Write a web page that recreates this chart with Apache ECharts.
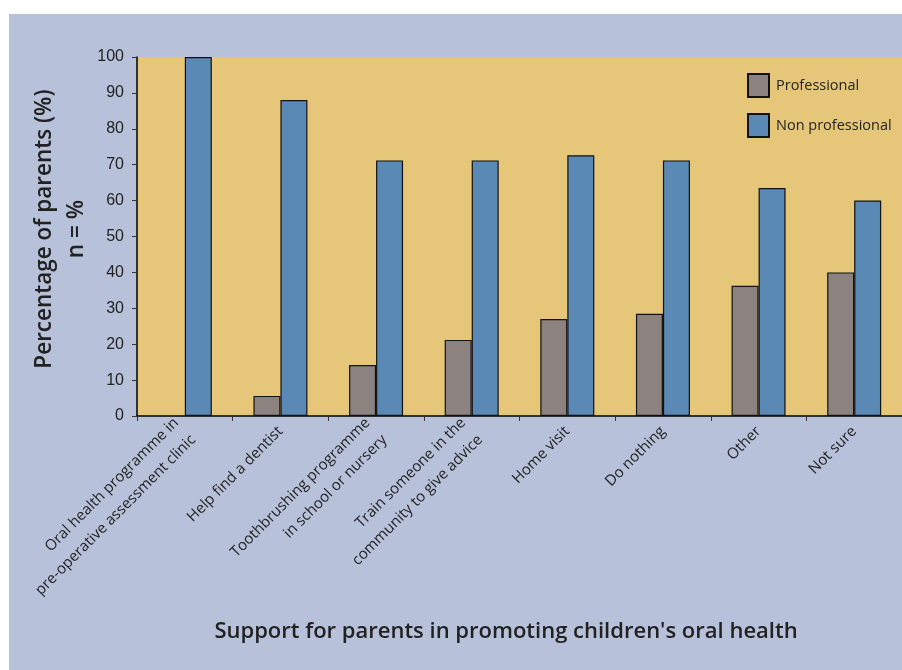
<!DOCTYPE html>
<html>
<head>
<meta charset="utf-8">
<script src="https://cdn.jsdelivr.net/npm/echarts@6/dist/echarts.min.js"></script>
<style>
  html, body { margin: 0; padding: 0; background: #ffffff; }
  #frame { position: absolute; left: 9px; top: 14px; width: 893px; height: 656px; background: #B8C1DA; }
  #chart { position: absolute; left: 0; top: 0; width: 902px; height: 670px; }
</style>
</head>
<body>
<div id="frame"></div>
<div id="chart"></div>
<script>
const categories = [
  "Oral health programme in\npre-operative assessment clinic",
  "Help find a dentist",
  "Toothbrushing programme\nin school or nursery",
  "Train someone in the\ncommunity to give advice",
  "Home visit",
  "Do nothing",
  "Other",
  "Not sure"
];
const professional = [null, 5.6, 14.2, 21.2, 27.0, 28.5, 36.3, 40.0];
const nonProfessional = [100, 88.0, 71.2, 71.2, 72.6, 71.2, 63.5, 60.0];
const yTicks = { min: 0, max: 100, interval: 10 };
const seriesNames = ["Professional", "Non professional"];
const xTitle = "Support for parents in promoting children's oral health";
const yTitle = "Percentage of parents (%)\nn = %";

const chart = echarts.init(document.getElementById('chart'), null, { renderer: 'canvas' });
const option = {
  backgroundColor: 'transparent',
  animation: false,
  grid: {
    left: 137, top: 57, width: 768, height: 359,
    show: true, backgroundColor: '#E6C779', borderWidth: 0
  },
  legend: {
    orient: 'vertical',
    left: 742, top: 68,
    icon: 'rect',
    itemWidth: 21, itemHeight: 23, itemGap: 15,
    textStyle: { fontFamily: 'Open Sans', fontSize: 14.5, color: '#222', padding: [0, 0, 0, 2] },
    data: seriesNames
  },
  xAxis: {
    type: 'category',
    data: categories,
    axisLine: { lineStyle: { color: '#000', width: 1.5 } },
    axisTick: { show: true, length: 5, lineStyle: { color: '#333', width: 1 } },
    axisLabel: {
      interval: 0, rotate: 45, margin: 13,
      fontFamily: 'Open Sans', fontSize: 15, color: '#222', lineHeight: 24
    }
  },
  yAxis: {
    type: 'value',
    min: yTicks.min, max: yTicks.max, interval: yTicks.interval,
    splitLine: { show: false },
    axisLine: { show: true, lineStyle: { color: '#000', width: 1.5 } },
    axisTick: { show: true, length: 5, lineStyle: { color: '#333' } },
    axisLabel: { fontFamily: 'Liberation Sans', fontSize: 16, color: '#222', margin: 13 }
  },
  graphic: [
    {
      type: 'text', x: 506, y: 632,
      style: {
        text: xTitle, fontFamily: 'Open Sans', fontSize: 22, fontWeight: 600, fill: '#222',
        textAlign: 'center', textVerticalAlign: 'middle'
      }
    },
    {
      type: 'text', x: 61, y: 229, rotation: Math.PI / 2,
      style: {
        text: yTitle, fontFamily: 'Open Sans', fontSize: 22.5, fontWeight: 600, fill: '#222',
        textAlign: 'center', textVerticalAlign: 'middle', lineHeight: 32
      }
    }
  ],
  series: [
    {
      name: seriesNames[0], type: 'bar', data: professional,
      barWidth: 27, barGap: '0%',
      itemStyle: { color: '#8C8381', borderColor: '#111', borderWidth: 1.2 }
    },
    {
      name: seriesNames[1], type: 'bar', data: nonProfessional,
      barWidth: 27,
      itemStyle: { color: '#5B89B6', borderColor: '#111', borderWidth: 1.2 }
    }
  ]
};
chart.setOption(option);
</script>
</body>
</html>
